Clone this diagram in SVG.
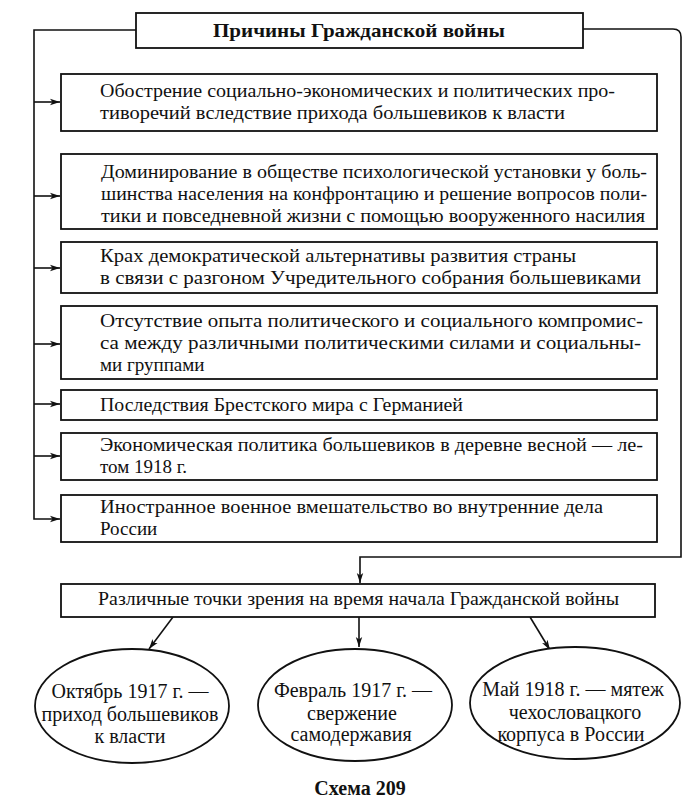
<svg xmlns="http://www.w3.org/2000/svg" width="694" height="809" viewBox="0 0 694 809">
<style>
.box{fill:#fff;stroke:#111;stroke-width:1.8}
.ell{fill:#fff;stroke:#111;stroke-width:1.8}
.con{fill:none;stroke:#111;stroke-width:1.6}
.t{font-family:"Liberation Serif","Times New Roman",serif;font-size:19px;fill:#111}
.e{font-family:"Liberation Serif","Times New Roman",serif;font-size:20px;fill:#111;text-anchor:middle}
.b{font-family:"Liberation Serif","Times New Roman",serif;font-weight:bold;fill:#111;text-anchor:middle}
</style>
<defs>
<marker id="ah" markerUnits="userSpaceOnUse" markerWidth="11" markerHeight="8" refX="10" refY="4" orient="auto">
<path d="M0,0.8 L10,4 L0,7.2 L2.5,4 z" fill="#111"/>
</marker>
</defs>
<rect width="694" height="809" fill="#fff"/>
<g id="connectors">
<path class="con" d="M136,30 H34 V519 H60" marker-end="url(#ah)"/>
<path class="con" d="M34,102 H60" marker-end="url(#ah)"/>
<path class="con" d="M34,196 H60" marker-end="url(#ah)"/>
<path class="con" d="M34,268 H60" marker-end="url(#ah)"/>
<path class="con" d="M34,344 H60" marker-end="url(#ah)"/>
<path class="con" d="M34,404 H60" marker-end="url(#ah)"/>
<path class="con" d="M34,456 H60" marker-end="url(#ah)"/>
<path class="con" d="M583,29 H673 Q681,29 681,37 V557 H360 V583" marker-end="url(#ah)"/>
<path class="con" d="M173,617 L149,649" marker-end="url(#ah)"/>
<path class="con" d="M359,617 L359,647" marker-end="url(#ah)"/>
<path class="con" d="M530,617 L550,650" marker-end="url(#ah)"/>
</g>
<g id="title">
<rect class="box" x="136" y="13" width="447" height="35"/>
<text class="b" x="359" y="37" font-size="19" textLength="292" lengthAdjust="spacingAndGlyphs">Причины Гражданской войны</text>
</g>
<g id="cause1">
<rect class="box" x="61" y="74" width="596" height="57"/>
<text class="t" x="100" y="97" textLength="515" lengthAdjust="spacingAndGlyphs">Обострение социально-экономических и политических про-</text>
<text class="t" x="100" y="119" textLength="465" lengthAdjust="spacingAndGlyphs">тиворечий вследствие прихода большевиков к власти</text>
</g>
<g id="cause2">
<rect class="box" x="61" y="154" width="596" height="75"/>
<text class="t" x="101" y="178" textLength="546" lengthAdjust="spacingAndGlyphs">Доминирование в обществе психологической установки у боль-</text>
<text class="t" x="101" y="200" textLength="546" lengthAdjust="spacingAndGlyphs">шинства населения на конфронтацию и решение вопросов поли-</text>
<text class="t" x="101" y="222" textLength="544" lengthAdjust="spacingAndGlyphs">тики и повседневной жизни с помощью вооруженного насилия</text>
</g>
<g id="cause3">
<rect class="box" x="61" y="242" width="596" height="51"/>
<text class="t" x="100" y="262" textLength="476" lengthAdjust="spacingAndGlyphs">Крах демократической альтернативы развития страны</text>
<text class="t" x="100" y="284" textLength="541" lengthAdjust="spacingAndGlyphs">в связи с разгоном Учредительного собрания большевиками</text>
</g>
<g id="cause4">
<rect class="box" x="61" y="306" width="596" height="73"/>
<text class="t" x="100" y="327" textLength="543" lengthAdjust="spacingAndGlyphs">Отсутствие опыта политического и социального компромис-</text>
<text class="t" x="100" y="349" textLength="541" lengthAdjust="spacingAndGlyphs">са между различными политическими силами и социальны-</text>
<text class="t" x="100" y="371">ми группами</text>
</g>
<g id="cause5">
<rect class="box" x="61" y="390" width="596" height="30"/>
<text class="t" x="100" y="411" textLength="363" lengthAdjust="spacingAndGlyphs">Последствия Брестского мира с Германией</text>
</g>
<g id="cause6">
<rect class="box" x="61" y="433" width="596" height="47"/>
<text class="t" x="100" y="451" textLength="543" lengthAdjust="spacingAndGlyphs">Экономическая политика большевиков в деревне весной — ле-</text>
<text class="t" x="100" y="473">том 1918 г.</text>
</g>
<g id="cause7">
<rect class="box" x="61" y="495" width="596" height="47"/>
<text class="t" x="100" y="513" textLength="503" lengthAdjust="spacingAndGlyphs">Иностранное военное вмешательство во внутренние дела</text>
<text class="t" x="100" y="535">России</text>
</g>
<g id="views">
<rect class="box" x="61" y="584" width="594" height="33"/>
<text class="t" x="98" y="605" textLength="521" lengthAdjust="spacingAndGlyphs">Различные точки зрения на время начала Гражданской войны</text>
</g>
<g id="october">
<ellipse class="ell" cx="132" cy="706" rx="97" ry="57"/>
<text class="e" x="130" y="698">Октябрь 1917 г. —</text>
<text class="e" x="130" y="721">приход большевиков</text>
<text class="e" x="130" y="743">к власти</text>
</g>
<g id="february">
<ellipse class="ell" cx="355" cy="705" rx="97" ry="56"/>
<text class="e" x="353" y="697">Февраль 1917 г. —</text>
<text class="e" x="352" y="720">свержение</text>
<text class="e" x="351" y="741">самодержавия</text>
</g>
<g id="may">
<ellipse class="ell" cx="575" cy="703" rx="105" ry="56"/>
<text class="e" x="573" y="696">Май 1918 г. — мятеж</text>
<text class="e" x="575" y="719">чехословацкого</text>
<text class="e" x="571" y="741">корпуса в России</text>
</g>
<text class="b" x="360" y="795" font-size="20">Схема 209</text>
</svg>
